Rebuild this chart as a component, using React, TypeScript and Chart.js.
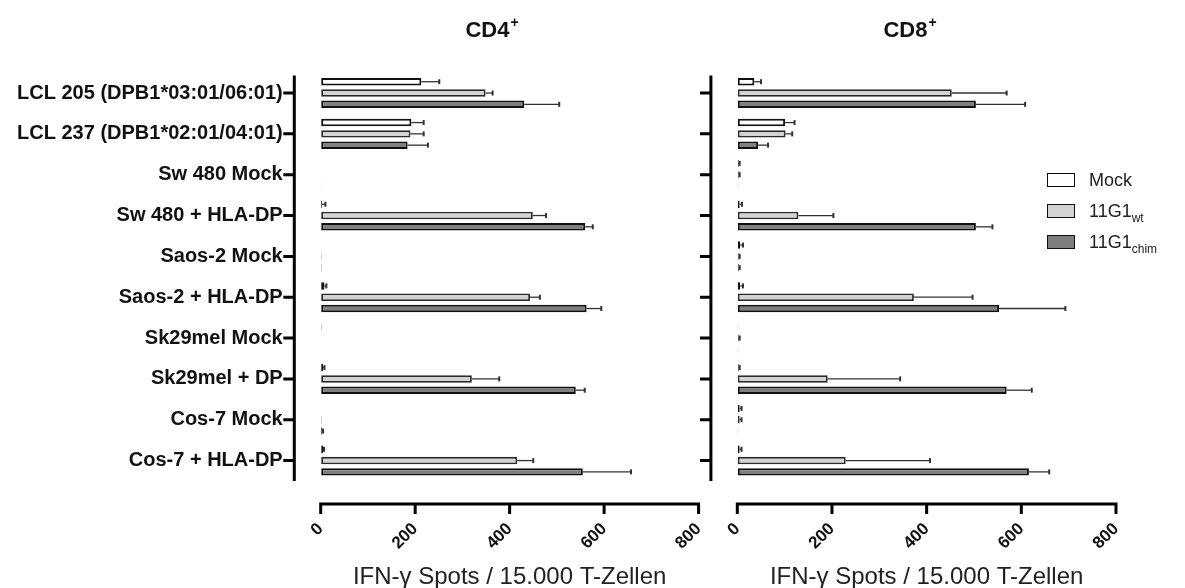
import React, { useEffect, useRef } from "react";
import { Chart, registerables } from "chart.js";

Chart.register(...registerables);

// Target cell lines (y categories)
const categories = [
  "LCL 205 (DPB1*03:01/06:01)",
  "LCL 237 (DPB1*02:01/04:01)",
  "Sw 480 Mock",
  "Sw 480 + HLA-DP",
  "Saos-2 Mock",
  "Saos-2 + HLA-DP",
  "Sk29mel Mock",
  "Sk29mel + DP",
  "Cos-7 Mock",
  "Cos-7 + HLA-DP",
];

// Legend names, with subscript parts
const seriesNames = ["Mock", "11G1", "11G1"];
const seriesSubs = ["", "wt", "chim"];

// CD4+ T cells: mean spots and SD
const cd4Mock = [213, 192, 0, 3, 0, 8, 2, 5, 0, 5];
const cd4MockSd = [38, 26, 0, 7, 0, 4, 0, 3, 0, 2];
const cd4Wt = [349, 190, 0, 449, 2, 443, 1, 320, 2, 416];
const cd4WtSd = [15, 28, 0, 28, 0, 21, 0, 58, 0, 34];
const cd4Chim = [431, 184, 1.5, 560, 2, 563, 1, 540, 3, 555];
const cd4ChimSd = [74, 43, 0, 16, 0, 31, 0, 19, 2, 102];

// CD8+ T cells: mean spots and SD
const cd8Mock = [36, 101, 3, 5, 6, 6, 2, 3, 5, 5];
const cd8MockSd = [14, 20, 2, 5, 6, 6, 0, 2, 4, 4];
const cd8Wt = [453, 102, 3, 129, 3, 373, 3, 191, 5, 229];
const cd8WtSd = [116, 14, 2, 74, 2, 124, 2, 153, 4, 178];
const cd8Chim = [504, 44, 2, 504, 3, 553, 2, 569, 2, 616];
const cd8ChimSd = [104, 21, 0, 35, 2, 140, 0, 53, 0, 43];

const xTicks = [0, 200, 400, 600, 800];
const xTitle = "IFN-\u03b3 Spots / 15.000 T-Zellen";

const FONT = "'Liberation Sans', Arial, Helvetica, sans-serif";
const fills = ["#ffffff", "#d3d3d3", "#7f7f7f"];
const borders = ["#111111", "#2a2a2a", "#111111"];
const borderWidths = [2, 1.8, 2];

const AXIS_GAP = 26.4; // offset of the detached axes from the plot area
const X_AXIS_DROP = 23;
const HIDDEN = "rgba(0,0,0,0)";

// Detached (offset) axis lines and tick marks
const offsetAxesPlugin = {
  id: "offsetAxes",
  afterDraw(chart: any) {
    const { ctx, chartArea } = chart;
    const x = chart.scales.x;
    const y = chart.scales.y;
    ctx.save();
    ctx.strokeStyle = "#000";
    ctx.lineWidth = 3;
    ctx.lineCap = "butt";
    const ax = chartArea.left - AXIS_GAP;
    ctx.beginPath();
    ctx.moveTo(ax, chartArea.top + 3);
    ctx.lineTo(ax, chartArea.bottom);
    y.ticks.forEach((_t: any, i: number) => {
      const py = y.getPixelForTick(i);
      ctx.moveTo(ax - 11, py);
      ctx.lineTo(ax, py);
    });
    const ay = chartArea.bottom + X_AXIS_DROP;
    const x0 = x.getPixelForValue(x.min);
    const x1 = x.getPixelForValue(x.max);
    ctx.moveTo(x0 - 1.5, ay);
    ctx.lineTo(x1 + 1.5, ay);
    x.ticks.forEach((t: any) => {
      const px = x.getPixelForValue(t.value);
      ctx.moveTo(px, ay);
      ctx.lineTo(px, ay + 10);
    });
    ctx.stroke();
    ctx.restore();
  },
};

// One-sided (positive) SD whiskers
const errorBarsPlugin = {
  id: "errorBars",
  afterDatasetsDraw(chart: any) {
    const { ctx } = chart;
    const x = chart.scales.x;
    ctx.save();
    ctx.strokeStyle = "#333";
    chart.data.datasets.forEach((ds: any, di: number) => {
      const meta = chart.getDatasetMeta(di);
      meta.data.forEach((bar: any, i: number) => {
        const sd = ds.sd[i];
        if (!sd) return;
        const start = bar.x;
        const end = x.getPixelForValue(ds.data[i] + sd);
        ctx.lineWidth = 1.3;
        ctx.beginPath();
        ctx.moveTo(start, bar.y);
        ctx.lineTo(end, bar.y);
        ctx.stroke();
        ctx.lineWidth = 2;
        ctx.beginPath();
        ctx.moveTo(end, bar.y - 2.5);
        ctx.lineTo(end, bar.y + 2.5);
        ctx.stroke();
      });
    });
    ctx.restore();
  },
};

type PanelProps = {
  left: number;
  width: number;
  yWidth: number;
  padRight: number;
  showLabels: boolean;
  values: number[][];
  sds: number[][];
};

function Panel({ left, width, yWidth, padRight, showLabels, values, sds }: PanelProps) {
  const ref = useRef<HTMLCanvasElement | null>(null);

  useEffect(() => {
    if (!ref.current) return;
    const chart = new Chart(ref.current, {
      type: "bar",
      data: {
        labels: categories,
        datasets: values.map((v, k) => ({
          label: seriesNames[k] + seriesSubs[k],
          data: v,
          sd: sds[k],
          backgroundColor: fills[k],
          borderColor: borders[k],
          borderWidth: borderWidths[k],
          borderSkipped: false,
          categoryPercentage: 0.83,
          barPercentage: 0.66,
        })) as any,
      },
      options: {
        indexAxis: "y",
        responsive: false,
        animation: false,
        devicePixelRatio: 1,
        layout: {
          autoPadding: false,
          padding: { top: 72.6, right: padRight, bottom: 0, left: 0 },
        },
        plugins: {
          legend: { display: false },
          tooltip: { enabled: false },
          title: { display: false },
        },
        scales: {
          x: {
            type: "linear",
            min: 0,
            max: 800,
            afterBuildTicks: (s: any) => {
              s.ticks = xTicks.map((v) => ({ value: v }));
            },
            afterFit: (s: any) => {
              s.height = 107;
            },
            grid: {
              display: true,
              color: HIDDEN,
              drawOnChartArea: false,
              drawTicks: true,
              tickLength: 38,
            },
            border: { display: false },
            ticks: {
              minRotation: 45,
              maxRotation: 45,
              padding: 0,
              color: "#111",
              font: { family: FONT, size: 17, weight: "bold" },
            },
            title: {
              display: true,
              text: xTitle,
              color: "#222",
              padding: { top: 0, bottom: -4 },
              font: { family: FONT, size: 24 },
            },
          },
          y: {
            type: "category",
            afterFit: (s: any) => {
              s.width = yWidth;
            },
            grid: {
              display: true,
              color: HIDDEN,
              drawOnChartArea: false,
              drawTicks: true,
              tickLength: 36,
            },
            border: { display: false },
            ticks: {
              display: showLabels,
              autoSkip: false,
              padding: 2,
              color: "#111",
              font: { family: FONT, size: 20, weight: "bold" },
            },
          },
        },
      } as any,
      plugins: [offsetAxesPlugin, errorBarsPlugin],
    });
    return () => chart.destroy();
  }, []);

  return (
    <canvas
      ref={ref}
      width={width}
      height={588}
      style={{ position: "absolute", left, top: 0, width, height: 588 }}
    />
  );
}

function PanelTitle({ text, cx }: { text: string; cx: number }) {
  return (
    <div
      style={{
        position: "absolute",
        left: cx,
        top: 18,
        transform: "translateX(-50%)",
        font: `bold 22px ${FONT}`,
        color: "#111",
        lineHeight: "24px",
        whiteSpace: "nowrap",
      }}
    >
      {text}
      <span style={{ fontSize: 14, position: "relative", top: -10, marginLeft: 1 }}>+</span>
    </div>
  );
}

function Legend() {
  return (
    <div style={{ position: "absolute", left: 1047, top: 164 }}>
      {seriesNames.map((name, k) => (
        <div
          key={k}
          style={{ display: "flex", alignItems: "center", height: 32, marginTop: k === 0 ? 0 : -1 }}
        >
          <div
            style={{
              width: 26,
              height: 12,
              background: fills[k],
              border: "1.5px solid #111",
              marginRight: 14,
            }}
          />
          <span style={{ font: `18px ${FONT}`, color: "#222", whiteSpace: "nowrap" }}>
            {name}
            {seriesSubs[k] ? (
              <span style={{ fontSize: 12, position: "relative", top: 5 }}>{seriesSubs[k]}</span>
            ) : null}
          </span>
        </div>
      ))}
    </div>
  );
}

export default function App() {
  return (
    <div
      style={{
        position: "absolute",
        left: 0,
        top: 0,
        width: 1185,
        height: 588,
        background: "#fff",
        overflow: "hidden",
      }}
    >
      <Panel
        left={0}
        width={713}
        yWidth={320.7}
        padRight={0}
        showLabels={true}
        values={[cd4Mock, cd4Wt, cd4Chim]}
        sds={[cd4MockSd, cd4WtSd, cd4ChimSd]}
      />
      <Panel
        left={700}
        width={485}
        yWidth={37.3}
        padRight={69}
        showLabels={false}
        values={[cd8Mock, cd8Wt, cd8Chim]}
        sds={[cd8MockSd, cd8WtSd, cd8ChimSd]}
      />
      <PanelTitle text="CD4" cx={492} />
      <PanelTitle text="CD8" cx={910} />
      <Legend />
    </div>
  );
}
